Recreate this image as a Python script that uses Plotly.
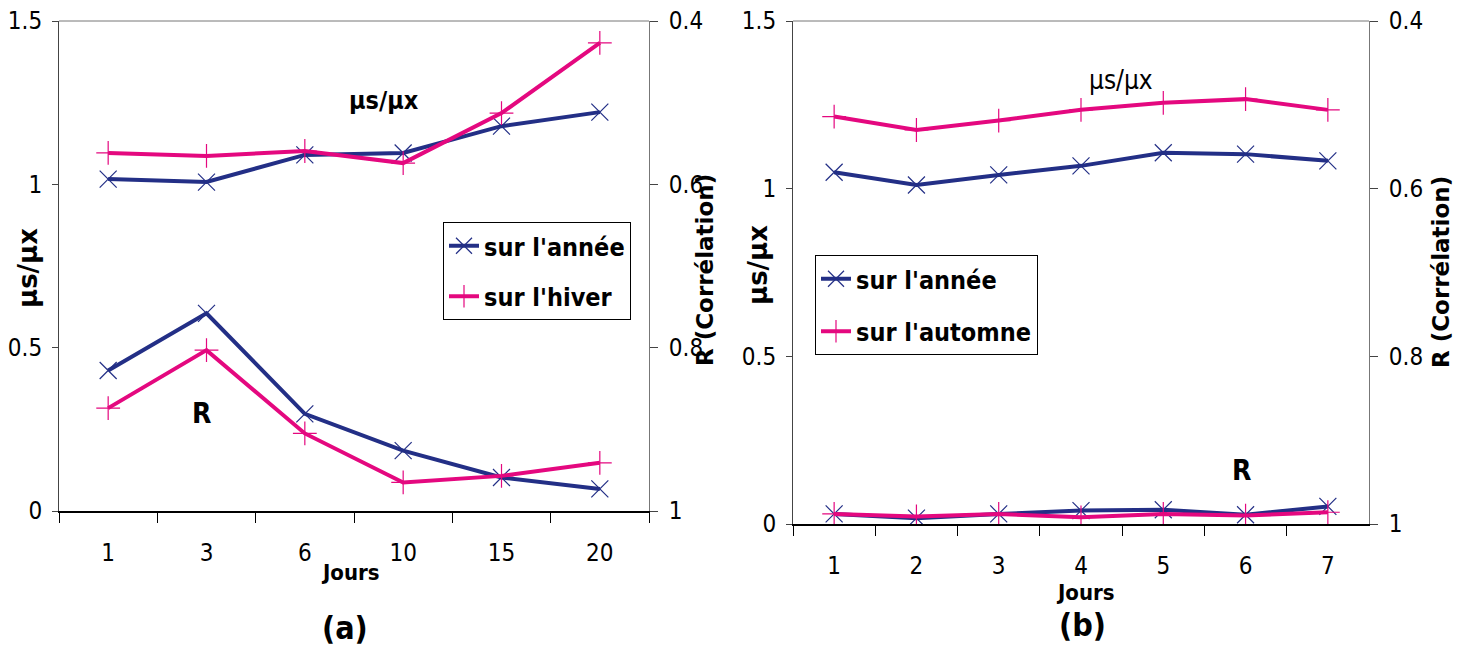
import plotly.graph_objects as go

# ---- data ----
days_a = ["1", "3", "6", "10", "15", "20"]
mu_annee_a = [1.016, 1.007, 1.090, 1.096, 1.178, 1.221]
mu_hiver_a = [1.096, 1.087, 1.102, 1.065, 1.218, 1.433]
r_annee_a = [0.828, 0.758, 0.881, 0.926, 0.959, 0.973]
r_hiver_a = [0.874, 0.803, 0.905, 0.965, 0.957, 0.941]

days_b = ["1", "2", "3", "4", "5", "6", "7"]
mu_annee_b = [1.049, 1.011, 1.041, 1.068, 1.107, 1.103, 1.083]
mu_automne_b = [1.215, 1.175, 1.203, 1.235, 1.256, 1.267, 1.235]
r_annee_b = [0.988, 0.993, 0.988, 0.984, 0.983, 0.989, 0.979]
r_automne_b = [0.988, 0.991, 0.988, 0.992, 0.988, 0.990, 0.986]

left_ticks = [0, 0.5, 1, 1.5]
left_ticktext = ["0", "0.5", "1", "1.5"]
right_ticks = [0.4, 0.6, 0.8, 1]
right_ticktext = ["0.4", "0.6", "0.8", "1"]

BLUE = "#232f86"
PINK = "#e4087f"
NARROW = "Liberation Sans Narrow, DejaVu Sans Condensed, Arial Narrow, sans-serif"
BOLDW = "DejaVu Sans, Liberation Sans, sans-serif"

W, H = 1461, 649
OFF = 8  # page body margin
def px(x): return (x - OFF) / W
def py(y): return 1 - (y - OFF) / H

fig = go.Figure()

def add_pair(xcats, ymu, yr, name, color, symbol, xa, ya, yr_axis, legend, show):
    common = dict(x=xcats, mode="lines+markers", name=name,
                  line=dict(color=color, width=4),
                  marker=dict(symbol=symbol, size=17, color=color,
                              line=dict(color=color, width=1.2)),
                  xaxis=xa, legend=legend)
    fig.add_trace(go.Scatter(y=ymu, yaxis=ya, showlegend=show, legendgroup=name + legend, **common))
    fig.add_trace(go.Scatter(y=yr, yaxis=yr_axis, showlegend=False, legendgroup=name + legend, **common))

add_pair(days_a, mu_annee_a, r_annee_a, "sur l'année", BLUE, "x-thin", "x", "y", "y2", "legend", True)
add_pair(days_a, mu_hiver_a, r_hiver_a, "sur l'hiver", PINK, "cross-thin", "x", "y", "y2", "legend", True)
add_pair(days_b, mu_annee_b, r_annee_b, "sur l'année", BLUE, "x-thin", "x2", "y3", "y4", "legend2", True)
add_pair(days_b, mu_automne_b, r_automne_b, "sur l'automne", PINK, "cross-thin", "x2", "y3", "y4", "legend2", True)

tickfont = dict(family=NARROW, size=24, color="black")

def xaxis(domain, anchor, n):
    return dict(domain=domain, anchor=anchor, type="category", tickson="boundaries",
                range=[-0.5, n - 0.5],
                ticks="outside", ticklen=10, tickcolor="black", tickwidth=1,
                showline=True, linecolor="black", linewidth=2, showgrid=False,
                zeroline=False, tickfont=tickfont, ticklabelstandoff=19,
                automargin=False, fixedrange=True, ticklabeloverflow="allow")

def yleft(domain, anchor):
    return dict(domain=domain, anchor=anchor, range=[0, 1.5], tickvals=left_ticks,
                ticktext=left_ticktext, ticks="outside", ticklen=6, tickcolor="#444",
                showline=True, linecolor="#444", linewidth=1, showgrid=False,
                zeroline=False, tickfont=tickfont, ticklabelstandoff=5,
                automargin=False, ticklabeloverflow="allow")

def yright(over, anchor):
    return dict(overlaying=over, anchor=anchor, side="right", range=[1, 0.4],
                tickvals=right_ticks, ticktext=right_ticktext, ticks="outside",
                ticklen=8, tickcolor="#444", showline=True, linecolor="#777",
                linewidth=1, showgrid=False, zeroline=False, tickfont=tickfont,
                ticklabelstandoff=6, automargin=False, ticklabeloverflow="allow")

dom_ax = [px(59), px(649)]
dom_ay = [py(511), py(21)]
dom_bx = [px(793), px(1369)]
dom_by = [py(524), py(21)]

legfont = dict(family=NARROW, size=25, color="black", weight="bold")
fig.update_layout(
    width=W, height=H,
    margin=dict(l=0, r=0, t=0, b=0, autoexpand=False),
    paper_bgcolor="white", plot_bgcolor="white",
    xaxis=xaxis(dom_ax, "y", len(days_a)),
    yaxis=yleft(dom_ay, "x"),
    yaxis2=yright("y", "x"),
    xaxis2=xaxis(dom_bx, "y3", len(days_b)),
    yaxis3=yleft(dom_by, "x2"),
    yaxis4=yright("y3", "x2"),
    legend=dict(x=px(443), y=py(222), xanchor="left", yanchor="top",
                bordercolor="black", borderwidth=1, bgcolor="white",
                font=legfont, tracegroupgap=15, itemwidth=30),
    legend2=dict(x=px(815), y=py(255), xanchor="left", yanchor="top",
                 bordercolor="black", borderwidth=1, bgcolor="white",
                 font=legfont, tracegroupgap=17, itemwidth=30),
    showlegend=True,
)

# top border lines
for xr, yr in [("x domain", "y domain"), ("x2 domain", "y3 domain")]:
    fig.add_shape(type="line", xref=xr, yref=yr, x0=0, x1=1, y0=1, y1=1,
                  line=dict(color="#777", width=1))

def ann(text, x, y, size, family=NARROW, bold=True, angle=0):
    fig.add_annotation(text=text, x=px(x), y=py(y), xref="paper", yref="paper",
                       showarrow=False, textangle=angle, xanchor="center", yanchor="middle",
                       font=dict(family=family, size=size, color="black",
                                 weight="bold" if bold else "normal"))

# panel a
ann("µs/µx", 384, 100, 25)
ann("R", 201, 413, 28)
ann("Jours", 350, 572, 22)
ann("(a)", 345, 628, 32)
ann("µs/µx", 28, 268, 26, family=BOLDW, angle=-90)
ann("R (Corrélation)", 705, 270, 23, family=BOLDW, angle=-90)
# panel b
ann("µs/µx", 1121, 80, 26, bold=False)
ann("R", 1241, 470, 28)
ann("Jours", 1085, 592, 22)
ann("(b)", 1082, 625, 32)
ann("µs/µx", 758, 265, 26, family=BOLDW, angle=-90)
ann("R (Corrélation)", 1441, 272, 23, family=BOLDW, angle=-90)

fig.write_html("out.html")
